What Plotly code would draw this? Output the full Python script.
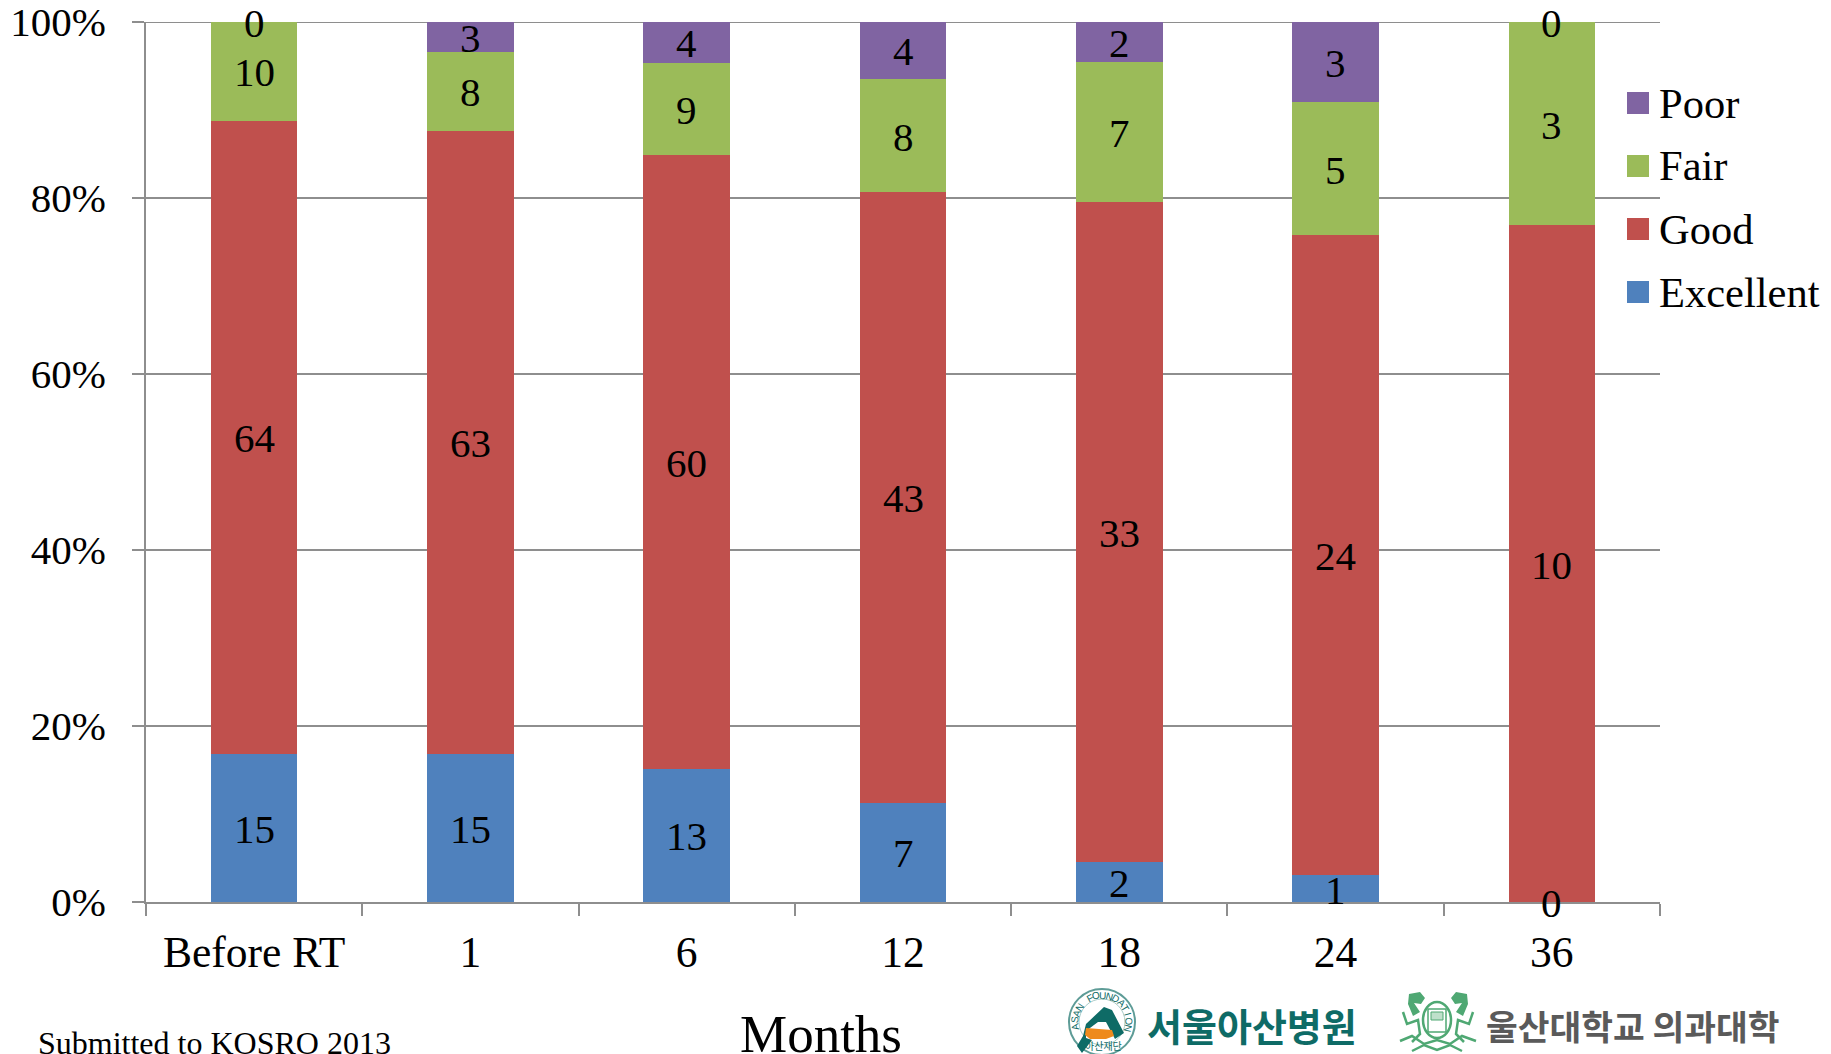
import numpy as np
import plotly.graph_objects as go

categories = ["Before RT", "1", "6", "12", "18", "24", "36"]
excellent = [15, 15, 13, 7, 2, 1, 0]
good = [64, 63, 60, 43, 33, 24, 10]
fair = [10, 8, 9, 8, 7, 5, 3]
poor = [0, 3, 4, 4, 2, 3, 0]

series_names = ["Excellent", "Good", "Fair", "Poor"]
series_values = [excellent, good, fair, poor]
series_colors = ["#4F81BD", "#C0504D", "#9BBB59", "#8064A2"]

WIDTH, HEIGHT = 1831, 1054
LEFT, RIGHT, TOP, BOTTOM = 146, 171, 22, 152
SERIF = "Liberation Serif, Times New Roman, serif"
GRID = "#8E8E8E"
TEAL = "#0E6B66"
CREST = "#4FA873"


def px_x(x):
    return (x - LEFT) / (WIDTH - LEFT - RIGHT)


def px_y(y):
    return 1 - (y - TOP) / (HEIGHT - TOP - BOTTOM)


def note(x, y, text, size, color="black", family=SERIF, xanchor="center", angle=0):
    return dict(
        x=px_x(x), y=px_y(y), xref="paper", yref="paper", text=text, showarrow=False,
        xanchor=xanchor, yanchor="middle", textangle=angle,
        font=dict(family=family, size=size, color=color),
    )


def box(x0, y0, x1, y1, fill, kind="rect", line=None, width=0):
    return dict(
        type=kind, xref="paper", yref="paper",
        x0=px_x(x0), x1=px_x(x1), y0=px_y(y0), y1=px_y(y1),
        fillcolor=fill, line=dict(color=line or fill, width=width), layer="above",
    )


def poly(points, fill=None, line=None, width=0):
    d = "M" + " L".join(f"{px_x(x):.5f},{px_y(y):.5f}" for x, y in points)
    if fill:
        d += " Z"
    return dict(
        type="path", xref="paper", yref="paper", path=d,
        fillcolor=fill or "rgba(0,0,0,0)",
        line=dict(color=line or fill, width=width), layer="above",
    )


fig = go.Figure()

for name, values, color in zip(series_names, series_values, series_colors):
    fig.add_trace(go.Bar(x=categories, y=values, name=name, marker=dict(color=color, line_width=0),
                         showlegend=False))

shapes = []
annotations = []

# Top gridline: plotly drops the grid at the very end of the range
shapes.append(dict(type="line", xref="paper", yref="y", x0=0, x1=1, y0=100, y1=100,
                   line=dict(color=GRID, width=2), layer="below"))

# Count labels sit at the middle of each stacked segment, zero counts included.
# Category annotations are placed by index because the labels look numeric;
# rounding keeps a zero segment at the very top inside the axis range.
totals = np.sum(series_values, axis=0)
base = np.zeros(len(categories))
for values in series_values:
    share = np.array(values) / totals * 100
    for idx, (mid, v) in enumerate(zip(base + share / 2, values)):
        annotations.append(dict(
            x=idx, y=min(round(float(mid), 6), 100), xref="x", yref="y", text=str(v), showarrow=False,
            xanchor="center", yanchor="middle", yshift=-1,
            font=dict(family=SERIF, size=41, color="black"),
        ))
    base = base + share

# Legend column, top entry first
for i, (name, color) in enumerate(zip(series_names[::-1], series_colors[::-1])):
    cy = 103 + i * 63
    shapes.append(box(1627, cy - 11, 1649, cy + 11, color))
    annotations.append(note(1657, cy, name, 42.5, xanchor="left"))

annotations.append(note(821, 1034, "Months", 53))
annotations.append(note(36, 1043, "Submitted to KOSRO 2013", 32, xanchor="left"))

# Hospital emblem
shapes.append(box(1069, 989, 1135, 1055, "white", "circle", "#5E9C97", 2))
shapes.append(box(1079, 999, 1125, 1045, "white", "circle", "#A9CCC8", 1))
shapes.append(poly([(1104, 1007), (1112, 1010), (1124, 1033), (1115, 1039), (1106, 1022),
                    (1098, 1022), (1086, 1031), (1086, 1038), (1092, 1040), (1082, 1053),
                    (1077, 1046), (1083, 1036), (1086, 1024)], fill=TEAL))
shapes.append(poly([(1086, 1028), (1112, 1030), (1114, 1036), (1106, 1039), (1090, 1039), (1085, 1035)],
                   fill="#EE8A1D"))
emblem_text = "ASAN FOUNDATION"
for i, letter in enumerate(emblem_text):
    deg = -100 + i * 14.5
    rad = np.deg2rad(deg)
    annotations.append(note(1102 + 27 * np.sin(rad), 1022 - 27 * np.cos(rad), letter, 10,
                            color=TEAL, family="Liberation Sans", angle=deg))
annotations.append(note(1103, 1045, "아산재단", 10, color=TEAL, family="Noto Sans CJK KR"))

annotations.append(note(1252, 1024, "<b>서울아산병원</b>", 38, color=TEAL, family="Noto Sans CJK KR"))

# University crest
shapes.append(box(1423, 1002, 1451, 1038, "white", "circle", CREST, 2.5))
shapes.append(box(1428, 1009, 1446, 1032, "white", "rect", CREST, 1.5))
shapes.append(box(1431, 1012, 1443, 1020, "#BFE0CB", "rect", CREST, 1))
for pts in [
    [(1409, 994), (1420, 992), (1425, 998), (1421, 1004), (1414, 1003), (1420, 1012), (1413, 1016), (1408, 1004)],
    [(1467, 994), (1456, 992), (1451, 998), (1455, 1004), (1462, 1003), (1456, 1012), (1463, 1016), (1468, 1004)],
]:
    shapes.append(poly(pts, fill=CREST))
for pts in [
    [(1403, 1012), (1407, 1024), (1418, 1020), (1420, 1034), (1412, 1042)],
    [(1473, 1012), (1469, 1024), (1458, 1020), (1456, 1034), (1464, 1042)],
    [(1400, 1041), (1412, 1036), (1424, 1044), (1437, 1040), (1450, 1044), (1462, 1036), (1476, 1041)],
    [(1412, 1051), (1424, 1045), (1437, 1050), (1450, 1045), (1462, 1051)],
]:
    shapes.append(poly(pts, line=CREST, width=2.5))

annotations.append(note(1633, 1025, "<b>울산대학교 의과대학</b>", 34.5, color="#5A5A5A", family="Noto Sans CJK KR"))

fig.update_layout(
    width=WIDTH, height=HEIGHT,
    margin=dict(l=LEFT, r=RIGHT, t=TOP, b=BOTTOM, pad=0),
    barmode="stack", barnorm="percent", bargap=0.6,
    plot_bgcolor="white", paper_bgcolor="white",
    font=dict(family=SERIF, size=42, color="black"),
    shapes=shapes, annotations=annotations, showlegend=False,
    xaxis=dict(
        type="category", categoryorder="array", categoryarray=categories,
        range=[-0.5, len(categories) - 0.5], automargin=False, tickangle=0,
        tickson="boundaries", ticks="outside", ticklen=12, tickwidth=2, tickcolor=GRID,
        showline=True, linecolor=GRID, linewidth=2, showgrid=False, zeroline=False,
        ticklabelstandoff=11, tickfont=dict(family=SERIF, size=43.5, color="black"),
    ),
    yaxis=dict(
        range=[0, 100], automargin=False, tickmode="array", tickvals=[0, 20, 40, 60, 80, 100],
        ticktext=["0%", "20%", "40%", "60%", "80%", "100%"],
        ticks="outside", ticklen=12, tickwidth=2, tickcolor=GRID,
        showline=True, linecolor=GRID, linewidth=2,
        showgrid=True, gridcolor=GRID, gridwidth=2, zeroline=False,
        ticklabelstandoff=18, ticklabeloverflow="allow",
        tickfont=dict(family=SERIF, size=41, color="black"),
    ),
)

fig.write_html("out.html")
